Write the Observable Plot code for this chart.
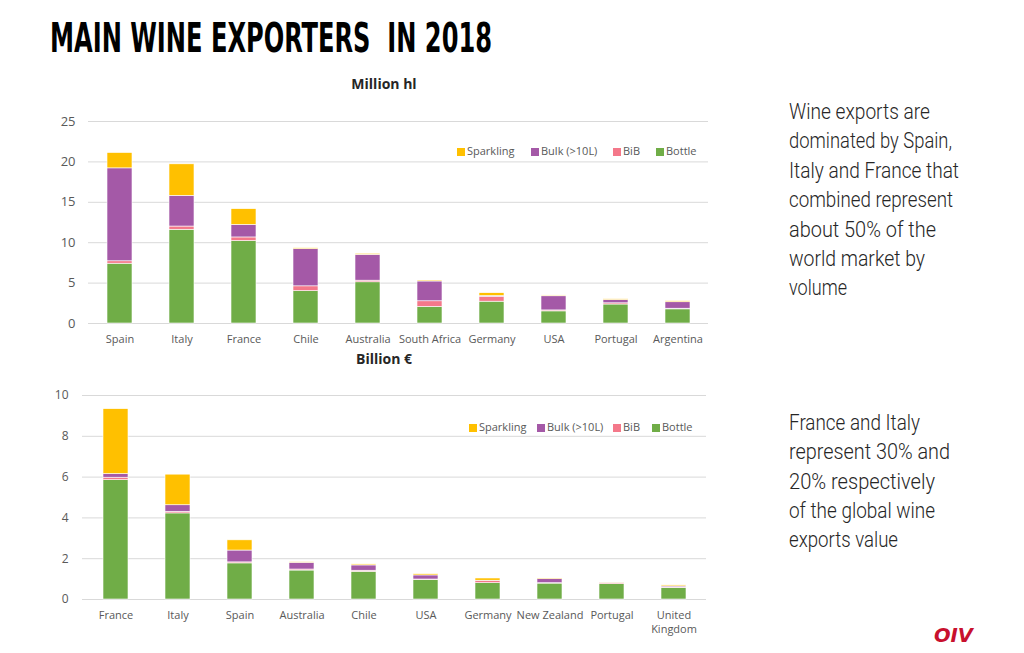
<!DOCTYPE html>
<html><head><meta charset="utf-8">
<script src="https://cdn.jsdelivr.net/npm/d3@7"></script>
<script src="https://cdn.jsdelivr.net/npm/@observablehq/plot@0.6"></script>
<style>
body{margin:0;background:#fff;}
#page{position:relative;width:1024px;height:653px;overflow:hidden;font-family:"Open Sans",sans-serif;background:#fff;}
.abs{position:absolute;left:0;top:0;}
.lg{position:absolute;font-size:11px;color:#595959;white-space:nowrap;line-height:12px;}
.sw{position:absolute;width:8px;height:8px;}
.ctitle{position:absolute;font-size:14px;font-weight:700;color:#262626;white-space:nowrap;transform:translateX(-50%);}
</style>
</head><body>
<div id="page"></div>
<script>
// ---------- data ----------
const seriesNames = ["Bottle", "BiB", "Bulk (>10L)", "Sparkling"];
const seriesColors = ["#70AD47", "#F4788A", "#A459A7", "#FFC000"];
const legendOrder = ["Sparkling", "Bulk (>10L)", "BiB", "Bottle"];

const volCountries = ["Spain","Italy","France","Chile","Australia","South Africa","Germany","USA","Portugal","Argentina"];
const volBottle    = [7.4, 11.6, 10.2, 4.0, 5.1, 2.05, 2.7, 1.5, 2.35, 1.75];
const volBiB       = [0.3, 0.4, 0.45, 0.6, 0.2, 0.7, 0.6, 0.12, 0.15, 0.08];
const volBulk      = [11.5, 3.8, 1.55, 4.6, 3.2, 2.45, 0.1, 1.75, 0.4, 0.8];
const volSparkling = [1.9, 3.9, 1.95, 0.12, 0.12, 0.12, 0.35, 0.1, 0.1, 0.12];
const volTicks     = [0, 5, 10, 15, 20, 25];

const valCountries = ["France","Italy","Spain","Australia","Chile","USA","Germany","New Zealand","Portugal","United Kingdom"];
const valBottle    = [5.85, 4.22, 1.77, 1.42, 1.36, 0.96, 0.8, 0.78, 0.75, 0.57];
const valBiB       = [0.12, 0.08, 0.05, 0.05, 0.05, 0.02, 0.1, 0.02, 0.05, 0.02];
const valBulk      = [0.18, 0.32, 0.58, 0.33, 0.26, 0.2, 0.02, 0.2, 0.02, 0.05];
const valSparkling = [3.18, 1.5, 0.5, 0.03, 0.05, 0.06, 0.11, 0.03, 0.01, 0.05];
const valTicks     = [0, 2, 4, 6, 8, 10];

const titleText = "MAIN WINE EXPORTERS  IN 2018";
const volTitle = "Million hl";
const valTitle = "Billion €";
const note1 = ["Wine exports are","dominated by Spain,","Italy and France that","combined represent","about 50% of the","world market by","volume"];
const note2 = ["France and Italy","represent 30% and","20% respectively","of the global wine","exports value"];
const logoText = "OIV";

// ---------- helpers ----------
const page = document.getElementById("page");
function tidy(countries, cols) {
  const rows = [];
  countries.forEach((c, i) => seriesNames.forEach((s, j) => rows.push({country: c, type: s, value: cols[j][i]})));
  return rows;
}
function chart(countries, cols, ticks, o) {
  const data = tidy(countries, cols);
  return Plot.plot({
    width: 720, height: o.height,
    marginTop: o.mt, marginBottom: o.mb, marginLeft: o.ml, marginRight: o.mr,
    style: {fontFamily: "'Open Sans', sans-serif", fontSize: "11px", color: "#595959", background: "transparent", overflow: "visible"},
    x: {domain: countries, paddingInner: 0.6, paddingOuter: 0.3, axis: null},
    y: {domain: [ticks[0], ticks[ticks.length - 1]], axis: null},
    color: {domain: seriesNames, range: seriesColors},
    marks: [
      Plot.gridY(ticks, {stroke: "#d9d9d9", strokeOpacity: 1}),
      Plot.axisY(ticks, {tickSize: 0, tickPadding: o.ytp, fontSize: o.yfs, label: null, fill: "#595959"}),
      Plot.axisX({tickSize: 0, tickPadding: 9, fontSize: 11, label: null, fill: "#595959",
                  tickFormat: d => d.replace("United Kingdom", "United\nKingdom"), lineHeight: 1.3}),
      Plot.barY(data, {x: "country", y: "value", fill: "type", stroke: "#ffffff", strokeWidth: 0.6, order: seriesNames})
    ]
  });
}
function addSvgText(lines, x, y0, lh, widths, style) {
  const ns = "http://www.w3.org/2000/svg";
  const svg = document.createElementNS(ns, "svg");
  svg.setAttribute("width", 1024); svg.setAttribute("height", 653);
  svg.setAttribute("class", "abs");
  svg.style.pointerEvents = "none";
  lines.forEach((t, i) => {
    const el = document.createElementNS(ns, "text");
    el.setAttribute("x", x); el.setAttribute("y", y0 + i * lh);
    if (widths) { el.setAttribute("textLength", widths[i]); el.setAttribute("lengthAdjust", "spacingAndGlyphs"); }
    for (const k in style) el.setAttribute(k, style[k]);
    el.style.whiteSpace = "pre";
    el.textContent = t;
    svg.appendChild(el);
  });
  page.appendChild(svg);
}
function legend(xs, y) {
  legendOrder.forEach((name, i) => {
    const sw = document.createElement("div");
    sw.className = "sw";
    sw.style.left = xs[i] + "px"; sw.style.top = (y - 4) + "px";
    sw.style.background = seriesColors[seriesNames.indexOf(name)];
    page.appendChild(sw);
    const lb = document.createElement("div");
    lb.className = "lg";
    lb.style.left = (xs[i] + 10) + "px"; lb.style.top = (y - 7) + "px";
    lb.textContent = name;
    page.appendChild(lb);
  });
}
function ctitle(t, x, y) {
  const d = document.createElement("div");
  d.className = "ctitle"; d.style.left = x + "px"; d.style.top = y + "px"; d.textContent = t;
  page.appendChild(d);
}

// ---------- charts ----------
const c1 = chart(volCountries, [volBottle, volBiB, volBulk, volSparkling], volTicks,
  {height: 253, mt: 21, mb: 30, ml: 88, mr: 12, ytp: 13, yfs: 13});
c1.style.position = "absolute"; c1.style.left = "0px"; c1.style.top = "100px";
page.appendChild(c1);

const c2 = chart(valCountries, [valBottle, valBiB, valBulk, valSparkling], valTicks,
  {height: 264, mt: 20, mb: 40, ml: 82, mr: 14, ytp: 14, yfs: 12});
c2.style.position = "absolute"; c2.style.left = "0px"; c2.style.top = "375px";
page.appendChild(c2);

legend([457, 531, 613, 656], 152);
legend([469, 537, 613, 652], 428);
ctitle(volTitle, 384, 74);
ctitle(valTitle, 384, 349);

// ---------- text ----------
addSvgText([titleText], 50, 52, 0, [442],
  {"font-family": "'Liberation Sans Narrow','DejaVu Sans Condensed',sans-serif", "font-weight": 700, "font-size": 41, "fill": "#000"});
addSvgText(note1, 789, 119, 29.4, [141, 163, 170, 164, 147, 136, 58],
  {"font-family": "Roboto,sans-serif", "font-weight": 300, "font-size": 22, "fill": "#262626"});
addSvgText(note2, 789, 430, 29.3, [131, 161, 146, 146, 109],
  {"font-family": "Roboto,sans-serif", "font-weight": 300, "font-size": 22, "fill": "#262626"});
addSvgText([logoText], 934, 642, 0, [39],
  {"font-family": "'DejaVu Sans',sans-serif", "font-weight": 700, "font-style": "italic", "font-size": 19, "fill": "#C8102E"});
</script>
</body></html>
